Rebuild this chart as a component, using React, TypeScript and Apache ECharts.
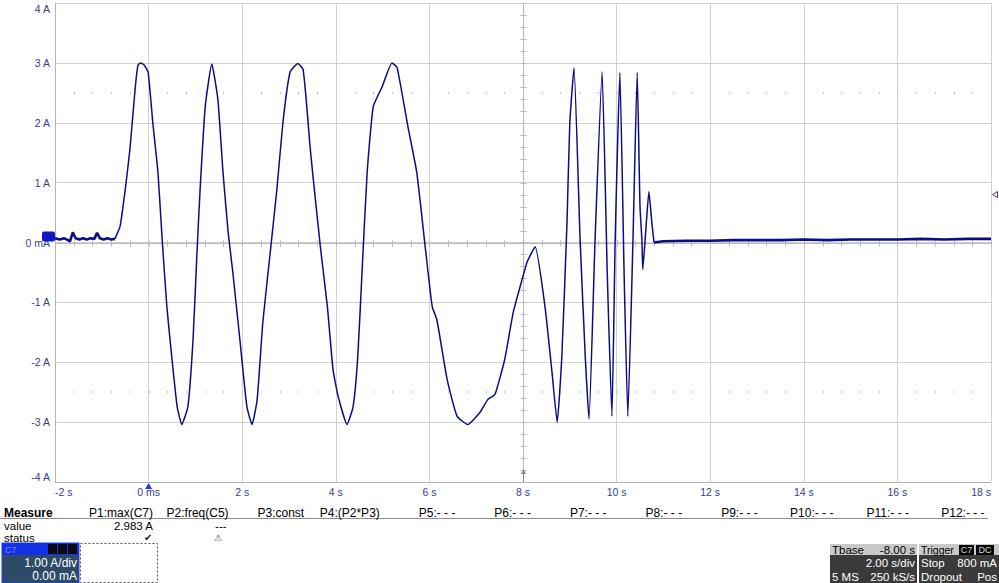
import React, { useEffect, useRef } from "react";
import * as echarts from "echarts";

const X_MIN = -2;
const X_MAX = 18;
const X_STEP = 2;
const Y_MIN = -4;
const Y_MAX = 4;
const Y_STEP = 1;

const xTickLabels = ["-2 s", "0 ms", "2 s", "4 s", "6 s", "8 s", "10 s", "12 s", "14 s", "16 s", "18 s"];
const yTickLabels = ["-4 A", "-3 A", "-2 A", "-1 A", "0 mA", "1 A", "2 A", "3 A", "4 A"];

// pre-trigger baseline (noisy)
const preTimes = [-2.0, -1.9, -1.8, -1.72, -1.68, -1.62, -1.56, -1.48, -1.4, -1.32, -1.24, -1.16, -1.1, -1.04, -0.96, -0.88, -0.8, -0.72];
const preAmps = [0.07, 0.05, 0.07, 0.04, 0.02, 0.17, 0.07, 0.05, 0.07, 0.05, 0.07, 0.06, 0.16, 0.07, 0.05, 0.07, 0.05, 0.06];

// main current burst
const burstTimes = [
  -0.72, -0.61, -0.5, -0.4, -0.29, -0.23, -0.18, -0.1, -0.01, 0.09, 0.2, 0.29, 0.39, 0.5, 0.61, 0.71, 0.84, 0.95,
  1.03, 1.1, 1.21, 1.35, 1.48, 1.59, 1.7, 1.8, 1.95, 2.1, 2.21, 2.32, 2.44, 2.59, 2.74, 2.87, 3.02, 3.19, 3.3,
  3.38, 3.45, 3.52, 3.67, 3.82, 3.94, 4.05, 4.24, 4.37, 4.47, 4.56, 4.67, 4.8, 4.99, 5.2, 5.31, 5.54, 5.73, 5.91,
  6.06, 6.16, 6.38, 6.59, 6.82, 7.08, 7.25, 7.4, 7.61, 7.79, 7.98, 8.09, 8.26, 8.47, 8.62, 8.73, 8.83, 8.94, 9.0,
  9.09, 9.22, 9.33, 9.41, 9.54, 9.69, 9.8, 9.9, 9.97, 10.07, 10.16, 10.24, 10.35, 10.44, 10.5, 10.54, 10.56,
  10.63, 10.69, 10.76, 10.8,
];
const burstAmps = [
  0.06, 0.27, 0.88, 1.55, 2.55, 2.95, 3.0, 2.97, 2.84, 2.0, 1.17, 0.05, -1.07, -1.95, -2.74, -3.04, -2.74, -1.62,
  -0.23, 0.88, 2.27, 2.98, 2.39, 1.17, 0.17, -0.5, -1.62, -2.74, -3.04, -2.62, -1.34, -0.23, 0.88, 2.0, 2.84, 2.99, 2.89,
  2.27, 1.6, 1.05, -0.07, -1.07, -2.12, -2.57, -3.04, -2.74, -1.9, -0.5, 1.17, 2.27, 2.6, 3.0, 2.92, 1.94, 1.17, -0.07,
  -1.07, -1.29, -2.29, -2.9, -3.04, -2.84, -2.62, -2.54, -1.95, -1.17, -0.62, -0.32, -0.07, -1.07, -2.17, -3.0, -1.9, 0.33, 2.0,
  2.92, 0.05, -1.9, -2.95, 0.05, 2.85, -0.5, -2.9, 0.05, 2.84, -0.5, -2.9, 0.05, 2.84, 0.6, 0.05, -0.45,
  0.27, 0.85, 0.27, 0.0,
];

// post-burst baseline (noisy)
const tailTimes = [10.8, 11.0, 11.5, 12.0, 12.5, 13.0, 13.5, 14.0, 14.5, 15.0, 15.5, 16.0, 16.5, 17.0, 17.5, 18.0];
const tailAmps = [0.0, 0.02, 0.03, 0.03, 0.04, 0.04, 0.04, 0.05, 0.04, 0.05, 0.05, 0.05, 0.06, 0.05, 0.06, 0.06];

const triggerTime = 0;
const triggerLevel = 0.8;
const channelOffset = 0;
const horizontalCenter = 8;
const dottedLevels = [2.5, -2.5];
const minorStepX = 0.4;
const minorStepY = 0.2;

const measureHeaders = ["P1:max(C7)", "P2:freq(C5)", "P3:const", "P4:(P2*P3)", "P5:- - -", "P6:- - -", "P7:- - -", "P8:- - -", "P9:- - -", "P10:- - -", "P11:- - -", "P12:- - -"];
const measureValues = ["2.983 A", "---", "", "", "", "", "", "", "", "", "", ""];
const measureStatus = ["\u2714", "\u26A0", "", "", "", "", "", "", "", "", "", ""];
const channelTexts = ["C7", "1.00 A/div", "0.00 mA"];
const timebaseLeft = ["Tbase", "", "5 MS"];
const timebaseRight = ["-8.00 s", "2.00 s/div", "250 kS/s"];
const triggerLeft = ["Trigger", "Stop", "Dropout"];
const triggerRight = ["", "800 mA", "Pos"];
const triggerBadges = ["C7", "DC"];

const TRACE = "#0c0c86";
const AXIS_TEXT = "#3b3b8f";
const FONT = '"Liberation Sans", Arial, sans-serif';

const zip = (a: number[], b: number[]) => a.map((t, i) => [t, b[i]]);

function txt(x: number, y: number, text: string, opts: any = {}) {
  return {
    type: "text",
    x,
    y,
    silent: true,
    style: {
      text,
      fill: opts.fill || "#000",
      fontSize: opts.size || 12,
      fontFamily: FONT,
      fontWeight: opts.bold ? "bold" : "normal",
      textAlign: opts.align || "left",
      textVerticalAlign: "middle",
    },
  };
}

function buildGraphics() {
  const g: any[] = [];
  g.push({ type: "line", shape: { x1: 0, y1: 518.5, x2: 988, y2: 518.5 }, style: { stroke: "#8c8c8c", lineWidth: 1 }, silent: true });
  g.push(txt(4, 512.5, "Measure", { bold: true }));
  g.push(txt(4, 525.5, "value", { size: 11.5 }));
  g.push(txt(4, 538, "status", { size: 11.5 }));
  measureHeaders.forEach((h, i) => {
    const xr = 153 + i * 75.6;
    g.push(txt(xr, 512.5, h, { align: "right" }));
    if (measureValues[i]) g.push(txt(i === 1 ? xr - 2 : xr, 525.5, measureValues[i], { align: "right", size: 11.5 }));
    if (measureStatus[i])
      g.push(txt(i === 0 ? xr - 1 : xr - 7, 537.5, measureStatus[i], { align: "right", size: i === 0 ? 10 : 9, fill: i === 0 ? "#222" : "#444" }));
  });
  // channel descriptor box
  g.push({ type: "rect", shape: { x: 2, y: 543, width: 77, height: 40 }, style: { fill: "#2e4a68", stroke: "#1d44e8", lineWidth: 1 }, silent: true });
  g.push({ type: "rect", shape: { x: 2, y: 543, width: 77, height: 12 }, style: { fill: "#1230e6" }, silent: true });
  [48, 58, 68].forEach((bx) =>
    g.push({ type: "rect", shape: { x: bx, y: 544, width: 9, height: 10 }, style: { fill: "#0a0a14" }, silent: true })
  );
  g.push(txt(5, 549.5, channelTexts[0], { size: 9, fill: "#6f8cff" }));
  g.push(txt(77, 562.5, channelTexts[1], { align: "right", fill: "#ffffff" }));
  g.push(txt(77, 576, channelTexts[2], { align: "right", fill: "#ffffff" }));
  g.push({ type: "rect", shape: { x: 80.5, y: 543.5, width: 77, height: 39 }, style: { fill: "none", stroke: "#555", lineWidth: 1, lineDash: [2, 2] }, silent: true });
  // timebase box
  g.push({ type: "rect", shape: { x: 830, y: 544, width: 87, height: 11 }, style: { fill: "#c9c9c9" }, silent: true });
  g.push({ type: "rect", shape: { x: 830, y: 555, width: 87, height: 28 }, style: { fill: "#3a3a3a" }, silent: true });
  const rowsY = [549.5, 563, 576.5];
  timebaseLeft.forEach((t, i) => t && g.push(txt(832, rowsY[i], t, { size: 11.5, fill: i === 0 ? "#000" : "#fff" })));
  timebaseRight.forEach((t, i) => t && g.push(txt(915, rowsY[i], t, { align: "right", size: 11.5, fill: i === 0 ? "#000" : "#fff" })));
  // trigger box
  g.push({ type: "rect", shape: { x: 919, y: 544, width: 80, height: 11 }, style: { fill: "#c9c9c9" }, silent: true });
  g.push({ type: "rect", shape: { x: 919, y: 555, width: 80, height: 28 }, style: { fill: "#3a3a3a" }, silent: true });
  triggerLeft.forEach((t, i) => g.push(txt(921, rowsY[i], t, { size: i === 0 ? 10.5 : 11.5, fill: i === 0 ? "#000" : "#fff" })));
  triggerRight.forEach((t, i) => t && g.push(txt(997, rowsY[i], t, { align: "right", size: 11.5, fill: "#fff" })));
  const badgeX = [959, 976];
  triggerBadges.forEach((b, i) => {
    g.push({ type: "rect", shape: { x: badgeX[i], y: 545, width: i === 0 ? 15 : 18, height: 10 }, style: { fill: "#080808" }, silent: true });
    g.push(txt(badgeX[i] + (i === 0 ? 7.5 : 9), 550, b, { align: "center", size: 9, fill: "#d8d8d8" }));
  });
  return g;
}

const crisp = (v: number) => Math.round(v) + 0.5;

function gridDecor(_params: any, api: any) {
  const children: any[] = [];
  const stroke = "#b9b9b9";
  const a = api.coord([X_MIN, 0]);
  const b = api.coord([X_MAX, 0]);
  const y0 = crisp(a[1]);
  children.push({ type: "line", shape: { x1: a[0], y1: y0, x2: b[0], y2: y0 }, style: { stroke, lineWidth: 1 } });
  for (let t = X_MIN; t <= X_MAX + 1e-9; t += minorStepX) {
    const p = api.coord([t, 0]);
    const x = crisp(p[0]);
    children.push({ type: "line", shape: { x1: x, y1: y0 - 3, x2: x, y2: y0 + 3 }, style: { stroke, lineWidth: 1 } });
  }
  const c = api.coord([horizontalCenter, Y_MIN]);
  const d = api.coord([horizontalCenter, Y_MAX]);
  const xc = crisp(c[0]);
  children.push({ type: "line", shape: { x1: xc, y1: c[1], x2: xc, y2: d[1] }, style: { stroke, lineWidth: 1 } });
  for (let v = Y_MIN; v <= Y_MAX + 1e-9; v += minorStepY) {
    const p = api.coord([horizontalCenter, v]);
    const y = crisp(p[1]);
    children.push({ type: "line", shape: { x1: xc - 3, y1: y, x2: xc + 3, y2: y }, style: { stroke, lineWidth: 1 } });
  }
  dottedLevels.forEach((lv) => {
    for (let t = X_MIN + minorStepX; t < X_MAX - 1e-9; t += minorStepX) {
      const p = api.coord([t, lv]);
      children.push({ type: "rect", shape: { x: Math.round(p[0]), y: Math.round(p[1]) - 1, width: 1, height: 2 }, style: { fill: "#c4c4c4" } });
    }
  });
  return { type: "group", children };
}

function markers(_params: any, api: any) {
  const children: any[] = [];
  const z = api.coord([X_MIN, channelOffset]);
  children.push({ type: "rect", shape: { x: z[0] - 13, y: z[1] - 11, width: 13, height: 10, r: 2 }, style: { fill: "#1414c8" } });
  const tt = api.coord([triggerTime, Y_MIN]);
  children.push({ type: "polygon", shape: { points: [[tt[0], tt[1] + 1], [tt[0] - 3.5, tt[1] + 7], [tt[0] + 3.5, tt[1] + 7]] }, style: { fill: "#1d3ad6" } });
  const tl = api.coord([X_MAX, triggerLevel]);
  children.push({ type: "polygon", shape: { points: [[tl[0] + 1.5, tl[1]], [tl[0] + 6.5, tl[1] - 3], [tl[0] + 6.5, tl[1] + 3]] }, style: { fill: "#ffffff", stroke: "#3a3aa0", lineWidth: 1 } });
  const hp = api.coord([horizontalCenter, Y_MIN]);
  const hx = crisp(hp[0]);
  children.push({ type: "line", shape: { x1: hx, y1: hp[1], x2: hx, y2: hp[1] - 10 }, style: { stroke: "#8a8a8a", lineWidth: 1 } });
  children.push({ type: "polygon", shape: { points: [[hx, hp[1] - 13], [hx - 2.5, hp[1] - 8], [hx + 2.5, hp[1] - 8]] }, style: { fill: "#8a8a8a" } });
  return { type: "group", children };
}

export default function App() {
  const ref = useRef<HTMLDivElement>(null);
  useEffect(() => {
    if (!ref.current) return;
    const chart = echarts.init(ref.current, null, { renderer: "svg" });
    chart.setOption({
      animation: false,
      backgroundColor: "#ffffff",
      grid: { left: 55, top: 3, width: 936, height: 479, containLabel: false, outerBoundsMode: "none" },
      xAxis: {
        type: "value",
        min: X_MIN,
        max: X_MAX,
        interval: X_STEP,
        axisLine: { show: true, onZero: false, lineStyle: { color: "#b4b4b4" } },
        axisTick: { show: false },
        splitLine: { show: true, lineStyle: { color: "#d2d2d2", width: 1 } },
        axisLabel: {
          color: AXIS_TEXT,
          fontSize: 10.5,
          fontFamily: FONT,
          margin: 4,
          alignMinLabel: "left",
          alignMaxLabel: "right",
          formatter: (v: number) => xTickLabels[Math.round((v - X_MIN) / X_STEP)] ?? "",
        },
      },
      yAxis: {
        type: "value",
        min: Y_MIN,
        max: Y_MAX,
        interval: Y_STEP,
        axisLine: { show: true, onZero: false, lineStyle: { color: "#b4b4b4" } },
        axisTick: { show: false },
        splitLine: { show: true, lineStyle: { color: "#d2d2d2", width: 1 } },
        axisLabel: {
          color: AXIS_TEXT,
          fontSize: 10.5,
          fontFamily: FONT,
          margin: 5,
          verticalAlignMinLabel: "bottom",
          verticalAlignMaxLabel: "top",
          formatter: (v: number) => yTickLabels[Math.round((v - Y_MIN) / Y_STEP)] ?? "",
        },
      },
      graphic: buildGraphics(),
      series: [
        { type: "custom", renderItem: gridDecor, data: [[0, 0]], silent: true, z: 1, clip: false },
        { type: "line", data: zip(preTimes, preAmps), symbol: "none", lineStyle: { color: TRACE, width: 2.6 }, z: 3, silent: true },
        { type: "line", data: zip(burstTimes, burstAmps), symbol: "none", smooth: 0.15, lineStyle: { color: TRACE, width: 1.5 }, z: 3, silent: true },
        { type: "line", data: zip(tailTimes, tailAmps), symbol: "none", lineStyle: { color: TRACE, width: 2.6 }, z: 3, silent: true },
        { type: "custom", renderItem: markers, data: [[0, 0]], silent: true, z: 5, clip: false },
      ],
    });
    return () => chart.dispose();
  }, []);
  return <div ref={ref} style={{ position: "fixed", left: 0, top: 0, width: 999, height: 583, background: "#fff" }} />;
}
